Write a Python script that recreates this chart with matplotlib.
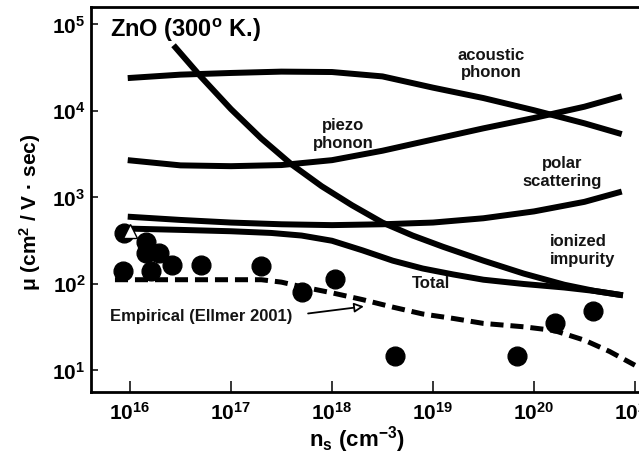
import matplotlib
matplotlib.use("Agg")
import matplotlib.pyplot as plt
from matplotlib.ticker import FixedLocator, FixedFormatter, NullLocator

plt.rcParams['font.family'] = ['Liberation Sans', 'DejaVu Sans']
plt.rcParams['font.weight'] = 'bold'
plt.rcParams['mathtext.fontset'] = 'custom'
plt.rcParams['mathtext.rm'] = 'Liberation Sans:bold'
plt.rcParams['mathtext.bf'] = 'Liberation Sans:bold'
plt.rcParams['mathtext.it'] = 'Liberation Sans:bold:italic'
plt.rcParams['mathtext.default'] = 'rm'
plt.rcParams['lines.scale_dashes'] = False

# ---- mobility components, ZnO at 300 K (n in cm^-3, mu in cm^2/V s) ----
n_acoustic = [9.5e15, 3.16e16, 1e17, 3.16e17, 1e18, 3.16e18, 1e19, 3.16e19, 1e20, 3.16e20, 7.4e20]
mu_acoustic = [2.4e4, 2.63e4, 2.75e4, 2.85e4, 2.82e4, 2.51e4, 1.86e4, 1.41e4, 1.02e4, 7.2e3, 5.4e3]

n_piezo = [9.5e15, 3.16e16, 1e17, 3.16e17, 1e18, 3.16e18, 1e19, 3.16e19, 1e20, 3.16e20, 7.4e20]
mu_piezo = [2.7e3, 2.35e3, 2.3e3, 2.37e3, 2.7e3, 3.47e3, 4.68e3, 6.3e3, 8.3e3, 1.12e4, 1.48e4]

n_polar = [9.5e15, 3.16e16, 1e17, 3.16e17, 1e18, 3.16e18, 1e19, 3.16e19, 1e20, 3.16e20, 7.4e20]
mu_polar = [600, 550, 513, 490, 479, 490, 513, 575, 690, 890, 1170]

n_ionized = [2.7e16, 5e16, 1e17, 2e17, 4e17, 7.9e17, 1.58e18, 3.16e18, 6.3e18, 1.26e19,
             3.16e19, 7.9e19, 2e20, 4e20, 7.6e20]
mu_ionized = [5.75e4, 2.51e4, 1.05e4, 4.8e3, 2.4e3, 1.35e3, 813, 513, 363, 269,
              186, 132, 98, 83, 74]

n_total = [9.5e15, 3.16e16, 1e17, 2.5e17, 5e17, 1e18, 2e18, 4e18, 7.9e18, 1.58e19,
           3.16e19, 7.9e19, 2e20, 4e20, 7.6e20]
mu_total = [437, 422, 407, 389, 363, 316, 245, 186, 151, 129, 112, 100, 91, 83, 74]

n_empirical = [7.1e15, 2e17, 3.16e17, 5e17, 1e18, 2e18, 4e18, 7.9e18, 1.58e19, 3.16e19,
               7.9e19, 1.58e20, 3.16e20, 5.6e20, 1e21]
mu_empirical = [112, 112, 105, 93, 79, 66, 54, 45, 40, 35, 32, 29, 22.4, 16.6, 11.5]

# measured Hall mobilities
n_meas = [8.7e15, 1.45e16, 1.45e16, 1.95e16, 2.6e16, 8.5e15, 1.6e16, 5e16, 2e17,
          5.1e17, 1.07e18, 4.2e18, 6.8e19, 1.6e20, 3.8e20]
mu_meas = [390, 305, 228, 228, 165, 142, 142, 165, 162, 81, 115, 14.8, 14.8, 35, 49]

n_tri = [1e16]
mu_tri = [405]

x_ticks = [1e16, 1e17, 1e18, 1e19, 1e20, 1e21]
x_labels = ['$10^{16}$', '$10^{17}$', '$10^{18}$', '$10^{19}$', '$10^{20}$', '$10^{21}$']
y_ticks = [1e1, 1e2, 1e3, 1e4, 1e5]
y_labels = ['$10^{1}$', '$10^{2}$', '$10^{3}$', '$10^{4}$', '$10^{5}$']

fig = plt.figure(figsize=(6.39, 4.63), dpi=100)
ax = fig.add_axes([0.1424, 0.1533, 0.8576, 0.8316])
ax.set_xscale('log')
ax.set_yscale('log')
ax.set_xlim(10 ** 15.614, 10 ** 21.04)
ax.set_ylim(10 ** 0.751, 10 ** 5.202)

ax.plot(n_meas, mu_meas, 'o', color='black', markersize=13.5, zorder=2)

curve_kw = dict(color='black', lw=4.3, solid_capstyle='butt', solid_joinstyle='round', zorder=3)
ax.plot(n_acoustic, mu_acoustic, **curve_kw)
ax.plot(n_piezo, mu_piezo, **curve_kw)
ax.plot(n_polar, mu_polar, **curve_kw)
ax.plot(n_ionized, mu_ionized, **curve_kw)
ax.plot(n_total, mu_total, **curve_kw)
ax.plot(n_empirical, mu_empirical, color='black', lw=3.6, dashes=(9.4, 5.0),
        dash_capstyle='butt', zorder=3)

ax.plot(n_tri, mu_tri, '^', markersize=10, markerfacecolor='white',
        markeredgecolor='black', markeredgewidth=1.0, zorder=4)

# curve labels
lab_kw = dict(fontsize=12, fontweight='bold', color='#141414')
ax.text(3.75e19, 3.5e4, 'acoustic\nphonon', ha='center', va='center', **lab_kw)
ax.text(1.3e18, 5.35e3, 'piezo\nphonon', ha='center', va='center', **lab_kw)
ax.text(1.9e20, 1.95e3, 'polar\nscattering', ha='center', va='center', **lab_kw)
ax.text(1.44e20, 244, 'ionized\nimpurity', ha='left', va='center', **lab_kw)
ax.text(6.2e18, 100, 'Total', ha='left', va='center', **lab_kw)
ax.text(6.3e15, 42, 'Empirical (Ellmer 2001)', ha='left', va='center', **lab_kw)
ax.annotate('', xy=(2.07e18, 55), xytext=(5.8e17, 45.6),
            arrowprops=dict(arrowstyle='-|>', fc='white', ec='black', lw=1.3,
                            mutation_scale=14, shrinkA=0, shrinkB=0))

ax.text(0.035, 0.94, 'ZnO (300$^{\\mathrm{o}}$ K.)', transform=ax.transAxes,
        ha='left', va='center', fontsize=17, fontweight='bold')

# axes styling
ax.xaxis.set_major_locator(FixedLocator(x_ticks))
ax.xaxis.set_major_formatter(FixedFormatter(x_labels))
ax.xaxis.set_minor_locator(NullLocator())
ax.yaxis.set_major_locator(FixedLocator(y_ticks))
ax.yaxis.set_major_formatter(FixedFormatter(y_labels))
ax.yaxis.set_minor_locator(NullLocator())
ax.tick_params(axis='x', direction='in', length=8, width=1.1, labelsize=15, pad=7)
ax.tick_params(axis='y', direction='in', length=5, width=1.1, labelsize=15, pad=4)
for side in ('left', 'bottom', 'top'):
    ax.spines[side].set_linewidth(2)
ax.spines['right'].set_visible(False)

fig.text(30 / 639, 1 - 212 / 463, 'μ (cm$^2$ / V · sec)', rotation=90,
         ha='center', va='center', fontsize=15, fontweight='bold')
fig.text(357 / 639, 1 - 440 / 463, 'n$_{\\mathrm{s}}$ (cm$^{-3}$)',
         ha='center', va='center', fontsize=16, fontweight='bold')

fig.savefig('out.png', dpi=100)
